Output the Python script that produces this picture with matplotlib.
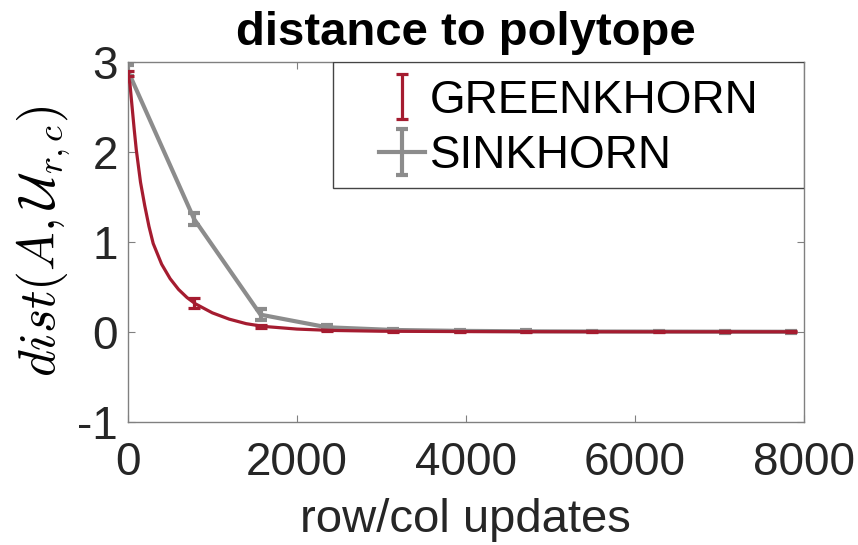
import numpy as np
import matplotlib
matplotlib.use("Agg")
import matplotlib.pyplot as plt
from matplotlib.patches import Rectangle

# error-bar checkpoints (every 785 row/col updates)
checkpoints = [0, 785, 1570, 2355, 3140, 3925, 4710, 5495, 6280, 7065, 7850]
sink_mean = [2.90, 1.25, 0.19, 0.05, 0.02, 0.01, 0.005, 0.003, 0.002, 0.001, 0.0]
sink_err = [0.06, 0.07, 0.06, 0.02, 0.01, 0.01, 0.01, 0.01, 0.01, 0.01, 0.01]
green_mean = [2.87, 0.32, 0.06, 0.015, 0.005, 0.002, 0.001, 0.0, 0.0, 0.0, 0.0]
green_err = [0.03, 0.06, 0.02, 0.01, 0.005, 0.005, 0.005, 0.005, 0.005, 0.005, 0.005]

# greenkhorn trace (dense)
green_x = [0, 25, 50, 75, 100, 150, 200, 250, 300, 400, 500, 600, 700, 800,
           1000, 1200, 1400, 1600, 2000, 2400, 3000, 4000, 5000, 6000, 7000, 7850]
green_y = [2.87, 2.75, 2.50, 2.25, 2.02, 1.66, 1.40, 1.17, 0.98, 0.75, 0.59, 0.47,
           0.38, 0.31, 0.21, 0.14, 0.09, 0.06, 0.03, 0.015, 0.006, 0.002, 0.001,
           0.0, 0.0, 0.0]

red = "#A51C30"
gray = "#8C8C8C"

plt.rcParams["font.family"] = ["Liberation Sans", "DejaVu Sans"]
plt.rcParams["mathtext.fontset"] = "cm"
plt.rcParams["axes.unicode_minus"] = False

fig = plt.figure(figsize=(8.58, 5.45), dpi=100)
ax = fig.add_axes([0.149, 0.226, 0.788, 0.661])

ax.plot(green_x, green_y, color=red, lw=2.3, zorder=3)
ax.errorbar(checkpoints, green_mean, yerr=green_err, fmt="none", ecolor=red,
            elinewidth=2.3, capsize=4, capthick=2.3, label="GREENKHORN", zorder=4)
ax.errorbar(checkpoints, sink_mean, yerr=sink_err, color=gray, lw=3,
            elinewidth=3, capsize=4.5, capthick=3, label="SINKHORN", zorder=2)

ax.set_xlim(0, 8000)
ax.set_ylim(-1, 3)
ax.set_xticks([0, 2000, 4000, 6000, 8000])
ax.set_yticks([-1, 0, 1, 2, 3])
ax.tick_params(direction="in", top=True, right=True, length=5, width=0.8,
               color="#808080", labelsize=33, labelcolor="#262626")
ax.tick_params(axis="x", pad=14)
ax.tick_params(axis="y", pad=7)
for s in ax.spines.values():
    s.set_color("#808080")
    s.set_linewidth(1)

ax.set_title("distance to polytope", fontsize=34, fontweight="bold", pad=12)
ax.set_xlabel("row/col updates", fontsize=34, labelpad=9, color="#262626")
ax.set_ylabel(r"$dist(A,\mathcal{U}_{r,c})$", fontsize=37, labelpad=3)

# legend box (MATLAB style, content centred in it)
box = Rectangle((0.303, 0.65), 0.697, 0.35, transform=ax.transAxes,
                facecolor="white", edgecolor="#444444", lw=1, zorder=4.5)
ax.add_patch(box)
leg = ax.legend(loc="center", bbox_to_anchor=(0.6525, 0.815), fontsize=33,
                frameon=False, borderaxespad=0, handlelength=1.0,
                handletextpad=0.1, borderpad=0.0, labelspacing=0.25)
leg.set_zorder(5)

fig.savefig("out.png", dpi=100)
